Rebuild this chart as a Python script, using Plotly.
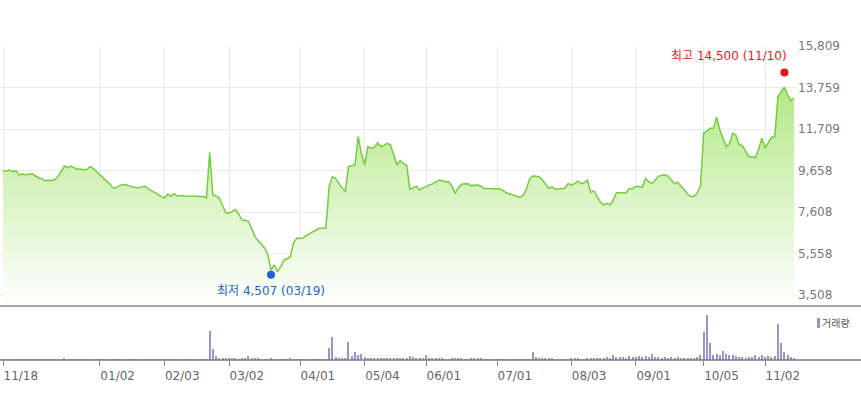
import pandas as pd
import plotly.graph_objects as go

# ---- trading calendar (KRX) ----
holidays = ["2019-12-25", "2019-12-31", "2020-01-01", "2020-01-24", "2020-01-27",
            "2020-04-15", "2020-04-30", "2020-05-01", "2020-05-05", "2020-08-17",
            "2020-09-30", "2020-10-01", "2020-10-02", "2020-10-09"]
days = [d.strftime("%Y-%m-%d") for d in pd.bdate_range("2019-11-18", "2020-11-13")
        if d.strftime("%Y-%m-%d") not in holidays]

# ---- closing prices ----
close = [
    9650, 9630, 9680, 9600, 9650, 9440, 9480, 9450, 9470, 9500,
    9400, 9300, 9250, 9150, 9180, 9170, 9200, 9350, 9600, 9880,
    9800, 9880, 9800, 9720, 9720, 9700, 9720, 9850, 9750, 9600,
    9450, 9350, 9190, 9000, 8790, 8800, 8900, 8960, 8950, 8880,
    8850, 8830, 8800, 8850, 8880, 8750, 8650, 8550, 8450, 8380,
    8300, 8500, 8380, 8510, 8400, 8420, 8400, 8400, 8410, 8400,
    8400, 8380, 8380, 8300, 10540, 8450, 8400, 8300, 7900, 7560,
    7560, 7650, 7720, 7500, 7210, 7200, 7150, 6800, 6390, 6200,
    6000, 5830, 5500, 4740, 4990, 4660, 4900, 5240, 5300, 5400,
    6100, 6310, 6310, 6330, 6450, 6550, 6650, 6720, 6800, 6800,
    6800, 8860, 9350, 9270, 9000, 8800, 8610, 9850, 9900, 9930,
    11330, 10500, 9930, 10840, 10750, 10800, 11020, 10840, 10900, 11000,
    10920, 10400, 9930, 10150, 10000, 9930, 8730, 8800, 8880, 8700,
    8800, 8850, 8950, 8990, 9100, 9190, 9150, 9100, 9110, 8900,
    8530, 8800, 8980, 8990, 9010, 8900, 8920, 8950, 8880, 8770,
    8770, 8770, 8770, 8760, 8740, 8650, 8550, 8500, 8450, 8400,
    8330, 8410, 8700, 9200, 9390, 9380, 9350, 9200, 9000, 8780,
    8850, 8730, 8750, 8760, 8780, 9010, 8950, 9010, 9140, 9010,
    9050, 9170, 8570, 8650, 8400, 8100, 7955, 8040, 7955, 8200,
    8560, 8570, 8550, 8560, 8770, 8760, 8880, 8850, 8830, 9270,
    9100, 9020, 9200, 9370, 9420, 9450, 9370, 9200, 9010, 9070,
    8900, 8700, 8500, 8370, 8370, 8550, 8880, 11500, 11600, 11740,
    11740, 12290, 11660, 11200, 10840, 11000, 11500, 11400, 10930, 10870,
    10600, 10340, 10340, 10300, 10700, 11250, 10760, 11000, 11300, 11330,
    13300, 13550, 13770, 13400, 13110, 13240,
]

# ---- volume (thousand shares) ----
volume = [
    5, 4, 5, 6, 5, 4, 6, 5, 8, 6,
    5, 5, 4, 6, 5, 6, 5, 10, 15, 110,
    12, 8, 6, 5, 5, 4, 5, 8, 6, 5,
    6, 8, 10, 9, 8, 6, 5, 6, 5, 5,
    4, 5, 5, 6, 6, 8, 9, 8, 6, 7,
    8, 9, 6, 8, 6, 5, 5, 5, 4, 5,
    5, 6, 6, 8, 2900, 1100, 370, 200, 180, 200,
    150, 170, 130, 100, 150, 200, 400, 220, 180, 150,
    100, 80, 90, 150, 60, 50, 80, 90, 100, 120,
    70, 60, 50, 60, 70, 60, 50, 60, 70, 80,
    90, 1200, 2300, 330, 200, 180, 220, 1800, 400, 770,
    500, 570, 300, 250, 220, 200, 230, 210, 200, 180,
    220, 240, 200, 220, 250, 200, 400, 280, 220, 200,
    180, 500, 200, 220, 200, 150, 120, 100, 90, 110,
    150, 180, 150, 100, 90, 120, 200, 180, 200, 100,
    80, 70, 60, 70, 50, 60, 50, 70, 60, 50,
    60, 70, 80, 100, 770, 300, 200, 180, 200, 150,
    180, 100, 60, 50, 60, 100, 120, 150, 130, 100,
    90, 150, 200, 250, 220, 250, 200, 280, 250, 500,
    300, 280, 300, 250, 400, 300, 350, 380, 330, 400,
    350, 600, 350, 300, 250, 280, 250, 300, 250, 280,
    250, 200, 180, 220, 250, 300, 500, 2800, 4500, 1700,
    500, 600, 500, 930, 600, 500, 550, 450, 300, 280,
    250, 280, 300, 500, 300, 550, 350, 400, 300, 450,
    3570, 1670, 830, 500, 330, 200,
]

# ---- axis labels ----
tick_dates = ["2019-11-18", "2020-01-02", "2020-02-03", "2020-03-02", "2020-04-01",
              "2020-05-04", "2020-06-01", "2020-07-01", "2020-08-03", "2020-09-01",
              "2020-10-05", "2020-11-02"]
tick_labels = ["11/18", "01/02", "02/03", "03/02", "04/01", "05/04", "06/01",
               "07/01", "08/03", "09/01", "10/05", "11/02"]
price_ticks = [3508, 5558, 7608, 9658, 11709, 13759, 15809]
price_labels = ["3,508", "5,558", "7,608", "9,658", "11,709", "13,759", "15,809"]

high_date, high_val, high_text = "2020-11-10", 14500, "최고 14,500 (11/10)"
low_date, low_val, low_text = "2020-03-19", 4507, "최저 4,507 (03/19)"
vol_name = "거래량"

W, H = 861, 402
mt, mb, ml, mr = 40, 42, 0, 64
ph = H - mt - mb
pw = W - ml - mr
price_dom = [(360 - 306) / ph, (360 - 46) / ph]
vol_dom = [0, 50 / ph]
pxu = 3.229
xr = [-3 / pxu, -3 / pxu + pw / pxu]

font = "DejaVu Sans, Noto Sans CJK KR, sans-serif"

fig = go.Figure()
fig.add_trace(go.Scatter(
    x=days, y=close, mode="lines",
    line=dict(color="#76cc3c", width=1.5),
    fill="tozeroy",
    fillgradient=dict(type="vertical", start=2965, stop=13500,
                      colorscale=[[0, "#ffffff"], [1, "#b6e98a"]]),
    xaxis="x", yaxis="y", hoverinfo="skip", showlegend=False,
))
fig.add_trace(go.Scatter(
    x=[high_date], y=[high_val], mode="markers",
    marker=dict(color="#ee1111", size=8), xaxis="x", yaxis="y", showlegend=False,
))
fig.add_trace(go.Scatter(
    x=[low_date], y=[low_val], mode="markers",
    marker=dict(color="#1f5fd6", size=8), xaxis="x", yaxis="y", showlegend=False,
))
fig.add_trace(go.Bar(
    x=days, y=volume, marker=dict(color="#9d92cc", line=dict(width=0)),
    width=0.33, xaxis="x2", yaxis="y2", showlegend=False,
))

fig.update_layout(
    width=W, height=H,
    margin=dict(l=ml, r=mr, t=mt, b=mb, autoexpand=False),
    paper_bgcolor="white", plot_bgcolor="white",
    font=dict(family=font, size=12, color="#666"),
    bargap=0,
    xaxis=dict(domain=[0, 1], anchor="y", type="category", categoryorder="array",
               categoryarray=days, range=xr, autorange=False, tickvals=tick_dates,
               showticklabels=False,
               showgrid=True, gridcolor="#ebebeb", gridwidth=1, ticks="", zeroline=False,
               showline=False),
    yaxis=dict(domain=price_dom, anchor="x", side="right", range=[2965, 15809],
               autorange=False,
               tickvals=price_ticks, ticktext=price_labels, showgrid=True,
               gridcolor="#ebebeb", zeroline=False, showline=False, ticks="",
               ticklabelstandoff=0,
               tickfont=dict(size=12, color="#777")),
    xaxis2=dict(domain=[0, 1], anchor="y2", type="category", categoryorder="array",
                categoryarray=days, range=xr, autorange=False,
                tickvals=tick_dates, ticktext=tick_labels, showgrid=False,
                ticks="outside", ticklen=5, tickcolor="#888", tickwidth=1,
                ticklabelposition="outside right", ticklabelstandoff=5,
                zeroline=False, showline=False,
                tickfont=dict(size=12, color="#666")),
    yaxis2=dict(domain=vol_dom, anchor="x2", range=[0, 5000], autorange=False,
                visible=False),
    shapes=[
        dict(type="line", xref="paper", yref="paper", x0=0, x1=W / pw,
             y0=price_dom[0], y1=price_dom[0], line=dict(color="#8a8a8a", width=1.5)),
        dict(type="line", xref="paper", yref="paper", x0=0, x1=W / pw,
             y0=0, y1=0, line=dict(color="#7a7a7a", width=1.5)),
        dict(type="rect", xref="paper", yref="paper",
             x0=(817 - ml) / pw, x1=(820 - ml) / pw,
             y0=(360 - 328) / ph, y1=(360 - 318) / ph,
             fillcolor="#9d92cc", line=dict(width=0)),
    ],
    annotations=[
        dict(x=high_date, y=high_val, xref="x", yref="y", text=high_text,
             showarrow=False, xanchor="right", yanchor="middle", xshift=5, yshift=17,
             font=dict(size=12, color="#ee1a1a", family=font)),
        dict(x=low_date, y=low_val, xref="x", yref="y", text=low_text,
             showarrow=False, xanchor="center", yanchor="middle", xshift=0, yshift=-16,
             font=dict(size=12, color="#2266cc", family=font)),
        dict(x=(822 - ml) / pw, y=(360 - 323) / ph, xref="paper", yref="paper",
             text=vol_name, showarrow=False, xanchor="left", yanchor="middle",
             xshift=-2, font=dict(size=10, color="#555", family=font)),
    ],
)

fig.write_html("out.html", config={"displayModeBar": False},
               post_script="document.body.style.margin='0';document.body.style.overflow='hidden';")
